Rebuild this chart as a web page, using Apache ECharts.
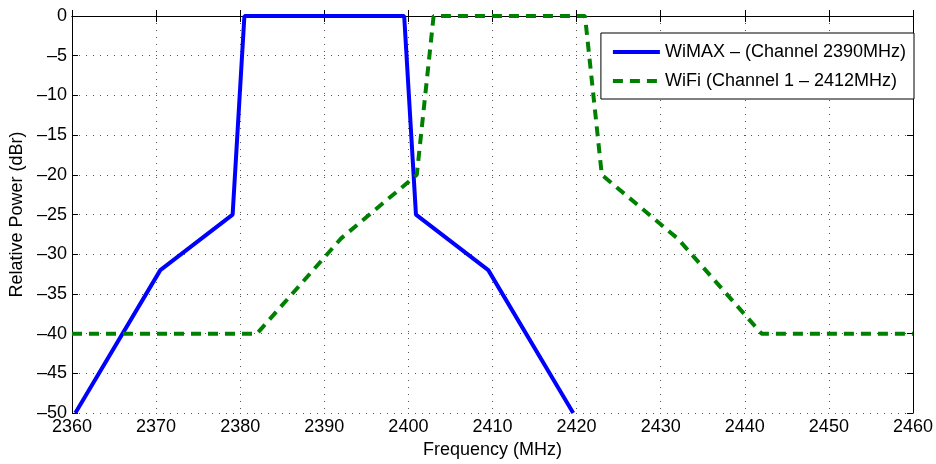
<!DOCTYPE html>
<html>
<head>
<meta charset="utf-8">
<script src="https://cdn.jsdelivr.net/npm/echarts@6/dist/echarts.min.js"></script>
<style>
  html, body { margin: 0; padding: 0; background: #fff; }
  #chart { width: 936px; height: 464px; }
</style>
</head>
<body>
<div id="chart"></div>
<script>
// spectral masks, [MHz, dBr]
const wimaxFreq = [2360.4, 2370.5, 2379.1, 2380.5, 2399.5, 2400.9, 2409.5, 2419.6];
const wimaxPower = [-50, -32, -25, 0, 0, -25, -32, -50];
const wifiFreq = [2360, 2382, 2392, 2401, 2403, 2421, 2423, 2432, 2442, 2460];
const wifiPower = [-40, -40, -28, -20, 0, 0, -20, -28, -40, -40];

const seriesNames = ['WiMAX – (Channel 2390MHz)', 'WiFi (Channel 1 – 2412MHz)'];

const pairs = (xs, ys) => xs.map((x, i) => [x, ys[i]]);

const chart = echarts.init(document.getElementById('chart'));
const font = 'Liberation Sans, Arial, Helvetica, sans-serif';
const gridDots = { show: true, lineStyle: { color: '#555', type: [1, 6], width: 1 } };
const tick = { show: true, inside: true, length: 6, lineStyle: { color: '#000' } };

const option = {
    animation: false,
    textStyle: { fontFamily: font },
    grid: { left: 72, right: 21, top: 16, bottom: 48, containLabel: false },
    legend: {
        right: 22, top: 33,
        orient: 'vertical',
        backgroundColor: '#fff',
        borderColor: '#000',
        borderWidth: 1,
        borderRadius: 0,
        padding: [10, 8, 9, 10],
        itemGap: 11,
        itemWidth: 47,
        itemHeight: 14,
        itemStyle: { opacity: 0 },
        lineStyle: { width: 4 },
        textStyle: { fontSize: 18, color: '#000', fontFamily: font },
        data: seriesNames
    },
    xAxis: [{
        type: 'value', min: 2360, max: 2460, interval: 10,
        name: 'Frequency (MHz)', nameLocation: 'middle', nameGap: 27,
        nameTextStyle: { fontSize: 18, color: '#000' },
        axisLine: { show: true, lineStyle: { color: '#000', width: 1 } },
        axisTick: tick,
        axisLabel: { fontSize: 18, color: '#000', margin: 5, formatter: v => String(v) },
        splitLine: gridDots
    }, {
        type: 'value', min: 2360, max: 2460, interval: 10, position: 'top',
        axisLine: { show: true, onZero: false, lineStyle: { color: '#000', width: 1 } },
        axisTick: tick,
        axisLabel: { show: false },
        splitLine: { show: false }
    }],
    yAxis: [{
        type: 'value', min: -50, max: 0, interval: 5,
        name: 'Relative Power (dBr)', nameLocation: 'middle', nameGap: 46,
        nameTextStyle: { fontSize: 18, color: '#000' },
        axisLine: { show: true, lineStyle: { color: '#000', width: 1 } },
        axisTick: tick,
        axisLabel: {
            fontSize: 18, color: '#000', margin: 5,
            formatter: v => (v < 0 ? '–' + Math.abs(v) : String(v))
        },
        splitLine: gridDots
    }, {
        type: 'value', min: -50, max: 0, interval: 5, position: 'right',
        axisLine: { show: true, onZero: false, lineStyle: { color: '#000', width: 1 } },
        axisTick: tick,
        axisLabel: { show: false },
        splitLine: { show: false }
    }],
    series: [
        {
            name: seriesNames[0],
            type: 'line',
            data: pairs(wimaxFreq, wimaxPower),
            showSymbol: false,
            symbol: 'none',
            clip: true,
            lineStyle: { color: '#0000ff', width: 4 },
            itemStyle: { color: '#0000ff' }
        },
        {
            name: seriesNames[1],
            type: 'line',
            data: pairs(wifiFreq, wifiPower),
            showSymbol: false,
            symbol: 'none',
            clip: true,
            lineStyle: { color: '#008000', width: 4, type: [10, 7] },
            itemStyle: { color: '#008000' }
        }
    ]
};

chart.setOption(option);
</script>
</body>
</html>
